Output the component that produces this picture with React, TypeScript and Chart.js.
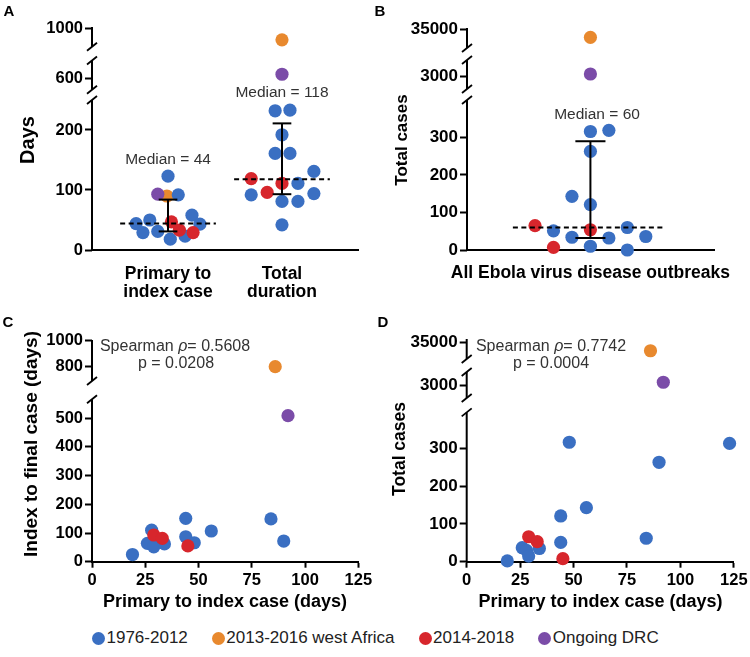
import React, { useEffect, useRef } from 'react';
import { Chart, registerables } from 'chart.js';

Chart.register(...registerables);

const FONT = "'Liberation Sans', Arial, Helvetica, sans-serif";

// ---------------- groups ----------------
const groupNames = ['1976-2012', '2013-2016 west Africa', '2014-2018', 'Ongoing DRC'];
const groupColors = ['#3a6fc2', '#e8892e', '#d7262c', '#7b4ca8'];
const groupDrawOrder = [3, 4, 1, 2];

// ---------------- panel A ----------------
const aCategoryLabels = [['Primary to', 'index case'], ['Total', 'duration']];
const aPrimaryDays = [[123, 92, 44, 50, 58, 43, 29, 31, 18, 23], [90], [47, 33, 29], [93]];
const aPrimaryJitter = [[0, 0.09, -0.28, -0.16, 0.21, 0.28, -0.22, -0.09, 0.02, 0.15], [-0.01], [0.03, 0.1, 0.22], [-0.09]];
const aTotalDays = [[232, 233, 192, 161, 161, 131, 111, 92, 94, 81, 81, 42], [902], [119, 111, 96], [615]];
const aTotalJitter = [[-0.06, 0.07, 0, -0.06, 0.07, 0.28, 0.14, -0.27, 0.28, 0, 0.14, 0], [0], [-0.27, 0, -0.13], [0]];
const aMedian = [44, 118];
const aQ1 = [31, 93];
const aQ3 = [84, 211];
const aYTicks = [[1000], [600], [0, 100, 200]];

// ---------------- panel B ----------------
const bCategoryLabel = 'All Ebola virus disease outbreaks';
const bTotalCases = [[316, 319, 263, 143, 121, 51, 60, 34, 32, 36, 10, 0], [28700], [65, 54, 7], [3033]];
const bJitter = [[0, 1, 0, -1, 0, -2, 2, -1, 1, 3, 0, 2], [0], [-3, 0, -2], [0]];
const bMedian = 60;
const bQ1 = 32;
const bQ3 = 290;
const bYTicks = [[35000], [3000], [0, 100, 200, 300]];

// ---------------- panel C ----------------
const cPrimaryDays = [[19, 28, 26, 29, 34, 44, 44, 48, 56, 84, 90], [86], [29, 33, 45], [92]];
const cIndexToFinal = [[25, 110, 64, 52, 62, 151, 87, 66, 107, 149, 72], [800], [93, 81, 55], [509]];
const cYTicks = [[800, 1000], [0, 100, 200, 300, 400, 500]];
const cRho = '0.5608';
const cP = '0.0208';

// ---------------- panel D ----------------
const dPrimaryDays = [[19, 26, 28, 29, 34, 44, 44, 48, 56, 84, 90, 123], [86], [29, 33, 45], [92]];
const dTotalCases = [[2, 37, 30, 15, 35, 121, 51, 316, 143, 62, 263, 313], [28700], [66, 53, 8], [3033]];
const dYTicks = [[35000], [3000], [0, 100, 200, 300]];
const dRho = '0.7742';
const dP = '0.0004';

const xDayTicks = [0, 25, 50, 75, 100, 125];

// ---------------- helpers ----------------
type Seg = { id: string; min: number; max: number; px: number; ticks: number[]; lo: number; hi: number; slashLo: boolean; slashHi: boolean };
type Run = { t: string; font: string };
type Label = { x: number; y: number; runs: Run[]; color: string; rot?: boolean };
type Box = { left: number; top: number; width: number; height: number };
type Area = { left: number; top: number; right: number; bottom: number };

const bold = (s: number) => `bold ${s}px ${FONT}`;
const reg = (s: number) => `${s}px ${FONT}`;
const ital = (s: number) => `italic ${s}px ${FONT}`;
const TXT = '#333333';

function txt(x: number, y: number, t: string, font: string, color = '#000', rot = false): Label {
  return { x, y, runs: [{ t, font }], color, rot };
}

function spearman(x: number, y: number, rho: string): Label {
  return {
    x, y, color: TXT,
    runs: [{ t: 'Spearman ', font: reg(16) }, { t: 'ρ', font: ital(16) }, { t: '= ' + rho, font: reg(16) }],
  };
}

function decorPlugin(segs: Seg[], labels: Label[], box: Box) {
  return {
    id: 'decor',
    afterDraw(chart: any) {
      const ctx = chart.ctx as CanvasRenderingContext2D;
      const x0 = chart.chartArea.left;
      ctx.save();
      ctx.strokeStyle = '#000';
      ctx.lineCap = 'butt';
      segs.forEach((s) => {
        const sc = chart.scales[s.id];
        const yLo = sc.getPixelForValue(s.lo);
        const yHi = sc.getPixelForValue(s.hi);
        ctx.lineWidth = 2;
        ctx.beginPath();
        ctx.moveTo(x0, s.slashLo ? yLo : yLo + 1);
        ctx.lineTo(x0, yHi);
        ctx.stroke();
        ctx.lineWidth = 1.8;
        const slash = (y: number) => {
          ctx.beginPath();
          ctx.moveTo(x0 - 5, y + 4);
          ctx.lineTo(x0 + 5, y - 4);
          ctx.stroke();
        };
        if (s.slashLo) slash(yLo);
        if (s.slashHi) slash(yHi);
      });
      labels.forEach((l) => {
        ctx.fillStyle = l.color;
        ctx.textBaseline = 'middle';
        ctx.textAlign = 'left';
        let total = 0;
        l.runs.forEach((r) => {
          ctx.font = r.font;
          total += ctx.measureText(r.t).width;
        });
        ctx.save();
        ctx.translate(l.x - box.left, l.y - box.top);
        if (l.rot) ctx.rotate(-Math.PI / 2);
        let cx = -total / 2;
        l.runs.forEach((r) => {
          ctx.font = r.font;
          ctx.fillText(r.t, cx, 0);
          cx += ctx.measureText(r.t).width;
        });
        ctx.restore();
      });
      ctx.restore();
    },
  };
}

function segFor(y: number, segs: Seg[]) {
  return segs.find((s) => y >= s.min && y <= s.max) || segs[segs.length - 1];
}

function pointSets(xs: number[][], ys: number[][], segs: Seg[]) {
  const out: any[] = [];
  xs.forEach((gx, g) => {
    segs.forEach((seg) => {
      const data: { x: number; y: number }[] = [];
      gx.forEach((x, i) => {
        const y = ys[g][i];
        if (segFor(y, segs).id === seg.id) data.push({ x, y });
      });
      if (data.length) {
        out.push({
          label: groupNames[g],
          data,
          xAxisID: 'x',
          yAxisID: seg.id,
          pointRadius: 6.6,
          pointHoverRadius: 6.6,
          pointBorderWidth: 0,
          pointBackgroundColor: groupColors[g],
          backgroundColor: groupColors[g],
          borderColor: groupColors[g],
          showLine: false,
          order: groupDrawOrder[g],
          clip: false,
        });
      }
    });
  });
  return out;
}

function lineSet(pts: { x: number; y: number }[], yAxisID: string, dash: number[] = []) {
  return {
    label: '',
    data: pts,
    xAxisID: 'x',
    yAxisID,
    showLine: true,
    borderColor: '#000',
    backgroundColor: '#000',
    borderWidth: 2,
    borderDash: dash,
    borderCapStyle: 'butt',
    pointRadius: 0,
    pointHoverRadius: 0,
    fill: false,
    tension: 0,
    order: 0,
    clip: false,
  };
}

function summarySets(cx: number, median: number, q1: number, q3: number, halfCap: number, medL: number, medR: number) {
  return [
    lineSet([{ x: cx + medL, y: median }, { x: cx + medR, y: median }], 'yBot', [5, 3.5]),
    lineSet([{ x: cx, y: q1 }, { x: cx, y: q3 }], 'yBot'),
    lineSet([{ x: cx - halfCap, y: q1 }, { x: cx + halfCap, y: q1 }], 'yBot'),
    lineSet([{ x: cx - halfCap, y: q3 }, { x: cx + halfCap, y: q3 }], 'yBot'),
  ];
}

type Panel = { box: Box; area: Area; segs: Seg[]; xScale: any; datasets: any[]; labels: Label[]; yFont: number };

function makeConfig(p: Panel): any {
  const { box, area, segs, xScale, datasets, labels, yFont } = p;
  const scales: any = {
    x: {
      ...xScale,
      position: 'bottom',
      afterFit: (s: any) => {
        s.height = box.top + box.height - area.bottom;
      },
    },
  };
  segs.forEach((s, i) => {
    scales[s.id] = {
      type: 'linear',
      axis: 'y',
      position: 'left',
      stack: 'left',
      stackWeight: s.px,
      weight: segs.length - i,
      min: s.min,
      max: s.max,
      afterBuildTicks: (sc: any) => {
        sc.ticks = s.ticks.map((v) => ({ value: v }));
      },
      afterFit: (sc: any) => {
        sc.width = area.left - box.left;
      },
      border: { display: false },
      grid: { display: true, drawOnChartArea: false, drawTicks: true, tickLength: 7, tickWidth: 2, tickColor: '#000' },
      ticks: {
        color: '#000', padding: 2, autoSkip: false,
        font: { family: FONT, size: yFont, weight: 'bold' },
        callback: (v: any) => String(v),
      },
    };
  });
  return {
    type: 'scatter',
    data: { datasets },
    options: {
      responsive: false,
      animation: false,
      devicePixelRatio: 1,
      events: [],
      layout: {
        autoPadding: false,
        padding: { left: 0, top: area.top - box.top, right: box.left + box.width - area.right, bottom: 0 },
      },
      plugins: { legend: { display: false }, tooltip: { enabled: false }, title: { display: false } },
      scales,
    },
    plugins: [decorPlugin(segs, labels, box)],
  };
}

const categoryGrid = { display: true, drawOnChartArea: false, drawTicks: false };
const axisBorder = { display: true, color: '#000', width: 2 };

// ---------------- panel A config ----------------
const aSegs: Seg[] = [
  { id: 'yTop', min: 780, max: 1016, px: 26.5, ticks: aYTicks[0], lo: 840, hi: 1016, slashLo: true, slashHi: false },
  { id: 'yMid', min: 535, max: 695, px: 41.5, ticks: aYTicks[1], lo: 555, hi: 668, slashLo: true, slashHi: true },
  { id: 'yBot', min: 0, max: 258.3, px: 155, ticks: aYTicks[2], lo: 0, hi: 250, slashLo: false, slashHi: true },
];
const panelA: Panel = {
  box: { left: 0, top: 0, width: 365, height: 305 },
  area: { left: 92, top: 27, right: 358, bottom: 250 },
  segs: aSegs,
  yFont: 16.5,
  xScale: {
    type: 'linear',
    min: -0.667,
    max: 1.667,
    afterBuildTicks: (sc: any) => {
      sc.ticks = aCategoryLabels.map((_, i) => ({ value: i }));
    },
    border: axisBorder,
    grid: categoryGrid,
    ticks: {
      color: '#000', maxRotation: 0, minRotation: 0, autoSkip: false, padding: 14.5,
      font: { family: FONT, size: 17.5, weight: 'bold', lineHeight: 1.05 },
      callback: (v: any) => aCategoryLabels[Math.round(v)],
    },
  },
  datasets: [
    ...summarySets(0, aMedian[0], aQ1[0], aQ3[0], 0.082, -0.42, 0.42),
    ...summarySets(1, aMedian[1], aQ1[1], aQ3[1], 0.082, -0.42, 0.42),
    ...pointSets(
      aPrimaryDays.map((g, gi) => [...aPrimaryJitter[gi].map((j) => 0 + j), ...aTotalJitter[gi].map((j) => 1 + j)]),
      aPrimaryDays.map((g, gi) => [...g, ...aTotalDays[gi]]),
      aSegs,
    ),
  ],
  labels: [
    txt(9, 12, 'A', bold(15)),
    txt(28, 140, 'Days', bold(20), '#000', true),
    txt(168, 160, `Median = ${aMedian[0]}`, reg(15.5), TXT),
    txt(282, 93, `Median = ${aMedian[1]}`, reg(15.5), TXT),
  ],
};

// ---------------- panel B config ----------------
const bSegs: Seg[] = [
  { id: 'yTop', min: 16020, max: 36020, px: 25.5, ticks: bYTicks[0], lo: 20333, hi: 36020, slashLo: true, slashHi: false },
  { id: 'yMid', min: 2780, max: 3280, px: 41.5, ticks: bYTicks[1], lo: 2852, hi: 3201, slashLo: true, slashHi: true },
  { id: 'yBot', min: 0, max: 413.3, px: 155, ticks: bYTicks[2], lo: 0, hi: 400, slashLo: false, slashHi: true },
];
const panelB: Panel = {
  box: { left: 365, top: 0, width: 385, height: 305 },
  area: { left: 467, top: 28, right: 735, bottom: 250 },
  segs: bSegs,
  yFont: 17,
  xScale: {
    type: 'linear',
    min: -6.685,
    max: 6.715,
    afterBuildTicks: (sc: any) => {
      sc.ticks = [{ value: 0 }];
    },
    border: axisBorder,
    grid: categoryGrid,
    ticks: {
      color: '#000', maxRotation: 0, minRotation: 0, autoSkip: false, padding: 12.5,
      font: { family: FONT, size: 17.5, weight: 'bold' },
      callback: () => bCategoryLabel,
    },
  },
  datasets: [
    ...summarySets(0, bMedian, bQ1, bQ3, 0.815, -4.2, 3.9),
    ...pointSets(bJitter, bTotalCases, bSegs),
  ],
  labels: [
    txt(380, 12, 'B', bold(15)),
    txt(402, 140, 'Total cases', bold(17), '#000', true),
    txt(597, 115, `Median = ${bMedian}`, reg(15.5), TXT),
  ],
};

// ---------------- panels C / D config ----------------
function dayAxis() {
  return {
    type: 'linear',
    min: 0,
    max: 125,
    afterBuildTicks: (sc: any) => {
      sc.ticks = xDayTicks.map((v) => ({ value: v }));
    },
    border: axisBorder,
    grid: { display: true, drawOnChartArea: false, drawTicks: true, tickLength: 6, tickWidth: 2, tickColor: '#000' },
    ticks: {
      color: '#000', maxRotation: 0, minRotation: 0, autoSkip: false, padding: 2.4,
      font: { family: FONT, size: 16.5, weight: 'bold' },
      callback: (v: any) => String(v),
    },
  };
}

const cSegs: Seg[] = [
  { id: 'yTop', min: 625, max: 1000, px: 50, ticks: cYTicks[0], lo: 692, hi: 1000, slashLo: true, slashHi: false },
  { id: 'yBot', min: 0, max: 598.3, px: 171.7, ticks: cYTicks[1], lo: 0, hi: 566, slashLo: false, slashHi: true },
];
const panelC: Panel = {
  box: { left: 0, top: 305, width: 375, height: 315 },
  area: { left: 92, top: 340, right: 358.3, bottom: 561.7 },
  segs: cSegs,
  yFont: 16.5,
  xScale: dayAxis(),
  datasets: pointSets(cPrimaryDays, cIndexToFinal, cSegs),
  labels: [
    txt(8, 323, 'C', bold(15)),
    txt(32, 444, 'Index to final case (days)', bold(19), '#000', true),
    txt(225, 602, 'Primary to index case (days)', bold(18)),
    spearman(175, 347, cRho),
    txt(176, 363.5, `p = ${cP}`, reg(16), TXT),
  ],
};

const dSegs: Seg[] = [
  { id: 'yTop', min: 16730, max: 37900, px: 27, ticks: dYTicks[0], lo: 22220, hi: 37900, slashLo: true, slashHi: false },
  { id: 'yMid', min: 2771, max: 3229, px: 38, ticks: dYTicks[1], lo: 2843, hi: 3157, slashLo: true, slashHi: true },
  { id: 'yBot', min: 0, max: 417.2, px: 157.7, ticks: dYTicks[2], lo: 0, hi: 395, slashLo: false, slashHi: true },
];
const panelD: Panel = {
  box: { left: 375, top: 305, width: 375, height: 315 },
  area: { left: 466.7, top: 339, right: 734.3, bottom: 561.7 },
  segs: dSegs,
  yFont: 17,
  xScale: dayAxis(),
  datasets: pointSets(dPrimaryDays, dTotalCases, dSegs),
  labels: [
    txt(383, 323, 'D', bold(15)),
    txt(400, 449, 'Total cases', bold(17.5), '#000', true),
    txt(600.5, 602, 'Primary to index case (days)', bold(18)),
    spearman(551, 347, dRho),
    txt(551, 363.5, `p = ${dP}`, reg(16), TXT),
  ],
};

const panels: Panel[] = [panelA, panelB, panelC, panelD];

export default function App() {
  const refs = useRef<(HTMLCanvasElement | null)[]>([]);
  useEffect(() => {
    const charts = panels.map((p, i) => new Chart(refs.current[i] as HTMLCanvasElement, makeConfig(p)));
    return () => charts.forEach((c) => c.destroy());
  }, []);
  return (
    <div style={{ position: 'absolute', left: 0, top: 0, width: 750, height: 657, background: '#fff', fontFamily: FONT, overflow: 'hidden' }}>
      {panels.map((p, i) => (
        <canvas
          key={i}
          ref={(el) => {
            refs.current[i] = el;
          }}
          width={p.box.width}
          height={p.box.height}
          style={{ position: 'absolute', left: p.box.left, top: p.box.top, width: p.box.width, height: p.box.height }}
        />
      ))}
      <div
        style={{
          position: 'absolute', left: 92, top: 628, height: 20, display: 'flex', alignItems: 'center', gap: 24,
          fontSize: 17, lineHeight: '20px', color: '#222', whiteSpace: 'nowrap',
        }}
      >
        {groupNames.map((g, i) => (
          <div key={g} style={{ display: 'flex', alignItems: 'center' }}>
            <span style={{ display: 'inline-block', width: 13, height: 13, borderRadius: '50%', background: groupColors[i], marginRight: 1.5 }} />
            <span>{g}</span>
          </div>
        ))}
      </div>
    </div>
  );
}
